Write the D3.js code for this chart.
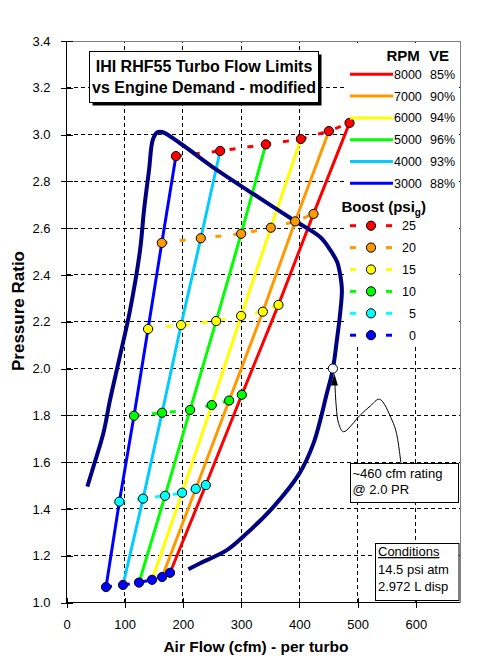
<!DOCTYPE html>
<html><head><meta charset="utf-8">
<script src="https://cdn.jsdelivr.net/npm/d3@7/dist/d3.min.js"></script>
<style>
html,body{margin:0;padding:0;background:#fff;}
text{font-family:"Liberation Sans",Arial,sans-serif;}
</style></head>
<body>
<svg id="c" width="479" height="671"></svg>
<script>
// ---------- DATA ----------
const rpms   = ["3000","4000","5000","6000","7000","8000"];
const veVals = ["88%","93%","96%","94%","90%","85%"];
const rpmColors = ["#0000FF","#00CCFF","#00FF00","#FFFF00","#FF9900","#FF0000"];
const boosts = [0,5,10,15,20,25];
const boostColors = ["#0000FF","#00FFFF","#00FF00","#FFFF00","#FF9900","#FF0000"];
// air flow (cfm) per rpm, at boost 0,5,10,15,20,25
const cfm3000 = [67.9, 90.8,116.0,140.1,163.7,188.0];
const cfm4000 = [97.1,131.5,164.2,196.8,230.7,263.9];
const cfm5000 = [124.6,169.3,212.3,257.0,300.0,342.4];
const cfm6000 = [147.0,198.6,249.6,300.0,351.0,402.6];
const cfm7000 = [164.2,222.1,279.4,337.3,392.8,450.8];
const cfm8000 = [177.9,239.3,301.2,364.1,424.3,486.2];
// pressure ratio per rpm, at boost 0,5,10,15,20,25
const pr3000 = [1.066,1.431,1.798,2.169,2.537,2.908];
const pr4000 = [1.075,1.444,1.811,2.186,2.557,2.930];
const pr5000 = [1.085,1.456,1.823,2.203,2.576,2.958];
const pr6000 = [1.097,1.469,1.844,2.225,2.602,2.981];
const pr7000 = [1.109,1.486,1.863,2.243,2.629,3.015];
const pr8000 = [1.127,1.502,1.888,2.272,2.661,3.050];
// turbo flow limit envelope
const envCfm = [35.8,46.1,63.3,74.8,90.3,109.2,126.4,133.2,141.8,148.2,155.6,164.2,195.1,258.2,321.1,389.9,435.8,453.0,465.0,470.2,473.1,470.2,464.5,457.6,447.3,424.3,400.2,355.5,309.8,275.4,229.5,209.4];
const envPR  = [1.495,1.580,1.723,1.866,2.037,2.250,2.507,2.678,2.849,2.977,3.009,3.011,2.963,2.849,2.746,2.635,2.562,2.507,2.455,2.400,2.336,2.238,2.122,1.998,1.894,1.680,1.552,1.409,1.296,1.224,1.168,1.142];
const ratingCfm = 457.6, ratingPR = 2.0;
// callout leader (data units)
const leadCfm = [574.5,567,559.1,537.7,522,504.6,475.8,467.5,463.5,461.2];
const leadPR  = [1.595,1.722,1.780,1.869,1.840,1.801,1.730,1.765,1.835,1.930];
const xTicks = [0,100,200,300,400,500,600];
const yTicks = [1.0,1.2,1.4,1.6,1.8,2.0,2.2,2.4,2.6,2.8,3.0,3.2,3.4];

const cfmByRpm = [cfm3000,cfm4000,cfm5000,cfm6000,cfm7000,cfm8000];
const prByRpm  = [pr3000,pr4000,pr5000,pr6000,pr7000,pr8000];

// ---------- CHART ----------
const svg = d3.select("#c");
const x = d3.scaleLinear().domain([0,676]).range([66.5,460]);
const y = d3.scaleLinear().domain([1,3.4]).range([602.5,41]);
svg.append("rect").attr("width",479).attr("height",671).attr("fill","#fff");

// gridlines
const g = svg.append("g").attr("shape-rendering","crispEdges");
g.selectAll(".vg").data(xTicks.filter(d=>d>0)).join("line")
  .attr("x1",d=>x(d)).attr("x2",d=>x(d)).attr("y1",y(1)).attr("y2",y(3.4))
  .attr("stroke","#000").attr("stroke-dasharray","4,3");
g.selectAll(".hg").data(yTicks.filter(d=>d>1&&d<3.4)).join("line")
  .attr("x1",x(0)).attr("x2",x(676)).attr("y1",d=>y(d)).attr("y2",d=>y(d))
  .attr("stroke","#000").attr("stroke-dasharray","4,3");
// plot border (top/right gray)
g.append("path").attr("d",`M${x(0)},${y(3.4)}H${x(676)}V${y(1)}`)
  .attr("fill","none").attr("stroke","#808080");

// legend background
svg.append("rect").attr("x",347).attr("y",46).attr("width",110).attr("height",299).attr("fill","#fff");

// axes
const ax = svg.append("g").attr("transform",`translate(${x(0)},0)`)
  .call(d3.axisLeft(y).tickValues(yTicks).tickFormat(d3.format(".1f")).tickSize(6).tickPadding(10));
const bx = svg.append("g").attr("transform",`translate(0,${y(1)})`)
  .call(d3.axisBottom(x).tickValues(xTicks).tickFormat(d3.format("d")).tickSize(5).tickPadding(12));
[ax,bx].forEach(a=>{a.select(".domain").remove();a.selectAll("text").attr("font-size",13).attr("font-family","Liberation Sans, Arial, sans-serif").attr("fill","#000");a.attr("shape-rendering","crispEdges");});
ax.selectAll(".tick line").attr("x1",6);
bx.selectAll(".tick line").attr("y1",-5);
svg.append("path").attr("d",`M${x(0)},${y(3.4)}V${y(1)}H${x(676)}`)
  .attr("fill","none").attr("stroke","#000").attr("shape-rendering","crispEdges");

// axis titles
svg.append("text").attr("x",256).attr("y",652).attr("text-anchor","middle")
  .attr("font-size",15.5).attr("font-weight","bold").text("Air Flow (cfm) - per turbo");
svg.append("text").attr("transform","translate(24,311) rotate(-90)").attr("text-anchor","middle")
  .attr("font-size",17).attr("font-weight","bold").text("Pressure Ratio");

// boost dashed lines
boosts.forEach((b,bi)=>{
  const pts = rpms.map((r,ri)=>[cfmByRpm[ri][bi],prByRpm[ri][bi]]);
  svg.append("path").attr("d",d3.line().x(d=>x(d[0])).y(d=>y(d[1]))(pts))
    .attr("fill","none").attr("stroke",boostColors[bi]).attr("stroke-width",3)
    .attr("stroke-dasharray","6,12");
});
// rpm lines
rpms.forEach((r,ri)=>{
  const pts = boosts.map((b,bi)=>[cfmByRpm[ri][bi],prByRpm[ri][bi]]);
  svg.append("path").attr("d",d3.line().x(d=>x(d[0])).y(d=>y(d[1]))(pts))
    .attr("fill","none").attr("stroke",rpmColors[ri]).attr("stroke-width",3);
});
// envelope
const env = envCfm.map((c,i)=>[c,envPR[i]]);
svg.append("path").attr("d",d3.line().x(d=>x(d[0])).y(d=>y(d[1])).curve(d3.curveCatmullRom.alpha(0.5))(env))
  .attr("fill","none").attr("stroke","#000080").attr("stroke-width",4).attr("stroke-linejoin","round");
// markers
rpms.forEach((r,ri)=>{
  boosts.forEach((b,bi)=>{
    svg.append("circle").attr("cx",x(cfmByRpm[ri][bi])).attr("cy",y(prByRpm[ri][bi])).attr("r",4.6)
      .attr("fill",boostColors[bi]).attr("stroke","#000").attr("stroke-width",1);
  });
});
svg.append("circle").attr("cx",x(ratingCfm)).attr("cy",y(ratingPR)).attr("r",4.6)
  .attr("fill","#fff").attr("stroke","#000");

// callout leader + arrow
const lead = leadCfm.map((c,i)=>[c,leadPR[i]]);
svg.append("path").attr("d",d3.line().x(d=>x(d[0])).y(d=>y(d[1])).curve(d3.curveCatmullRom.alpha(0.5))(lead))
  .attr("fill","none").attr("stroke","#000").attr("stroke-width",1);
const tipX = x(ratingCfm)+1.5, tipY = y(ratingPR)+5;
svg.append("path").attr("d",`M${tipX},${tipY}L${tipX-3.5},${tipY+12}L${tipX+3.5},${tipY+12}Z`).attr("fill","#000");

// title box
svg.append("rect").attr("x",92.5).attr("y",54.5).attr("width",229).attr("height",51).attr("fill","#000");
svg.append("rect").attr("x",89.5).attr("y",51.5).attr("width",229).attr("height",51).attr("fill","#fff").attr("stroke","#000");
svg.append("text").attr("x",204).attr("y",71.5).attr("text-anchor","middle").attr("font-size",16).attr("font-weight","bold").text("IHI RHF55 Turbo Flow Limits");
svg.append("text").attr("x",204).attr("y",93).attr("text-anchor","middle").attr("font-size",16).attr("font-weight","bold").text("vs Engine Demand - modified");

// RPM legend
svg.append("text").attr("x",386.5).attr("y",60.5).attr("font-size",15).attr("font-weight","bold").text("RPM");
svg.append("text").attr("x",429).attr("y",60.5).attr("font-size",15).attr("font-weight","bold").text("VE");
const legRows = d3.range(6).map(i=>5-i); // 8000 first
legRows.forEach((ri,k)=>{
  const yy = 74.3 + k*21.8;
  svg.append("line").attr("x1",350).attr("x2",393).attr("y1",yy).attr("y2",yy)
    .attr("stroke",rpmColors[ri]).attr("stroke-width",3);
  svg.append("text").attr("x",394).attr("y",yy+4.5).attr("font-size",12.5).text(rpms[ri]);
  svg.append("text").attr("x",430).attr("y",yy+4.5).attr("font-size",12.5).text(veVals[ri]);
});
// Boost legend
const bt = svg.append("text").attr("x",341.5).attr("y",211.5).attr("font-size",15).attr("font-weight","bold");
bt.append("tspan").text("Boost (psi");
bt.append("tspan").attr("font-size",10).attr("dy",4).text("g");
bt.append("tspan").attr("dy",-4).text(")");
legRows.forEach((bi,k)=>{
  const yy = 225.7 + k*21.9;
  svg.append("line").attr("x1",350).attr("x2",356).attr("y1",yy).attr("y2",yy).attr("stroke",boostColors[bi]).attr("stroke-width",3);
  svg.append("line").attr("x1",386).attr("x2",392).attr("y1",yy).attr("y2",yy).attr("stroke",boostColors[bi]).attr("stroke-width",3);
  svg.append("circle").attr("cx",371).attr("cy",yy).attr("r",4.6).attr("fill",boostColors[bi]).attr("stroke","#000");
  svg.append("text").attr("x",416).attr("y",yy+4.5).attr("text-anchor","end").attr("font-size",12.5).text(boosts[bi]);
});

// rating callout box
svg.append("rect").attr("x",350.5).attr("y",463.5).attr("width",108).attr("height",39).attr("fill","#fff").attr("stroke","#000");
svg.append("text").attr("x",352.5).attr("y",477.5).attr("font-size",13).text("~460 cfm rating");
svg.append("text").attr("x",352.5).attr("y",494).attr("font-size",13).text("@ 2.0 PR");

// conditions box
svg.append("rect").attr("x",375.5).attr("y",543.5).attr("width",83.5).attr("height",57).attr("fill","#fff").attr("stroke","#000");
svg.append("text").attr("x",378).attr("y",556).attr("font-size",13).attr("text-decoration","underline").text("Conditions");
svg.append("text").attr("x",378).attr("y",574).attr("font-size",13).text("14.5 psi atm");
svg.append("text").attr("x",378).attr("y",591).attr("font-size",13).text("2.972 L disp");
</script>
</body></html>
